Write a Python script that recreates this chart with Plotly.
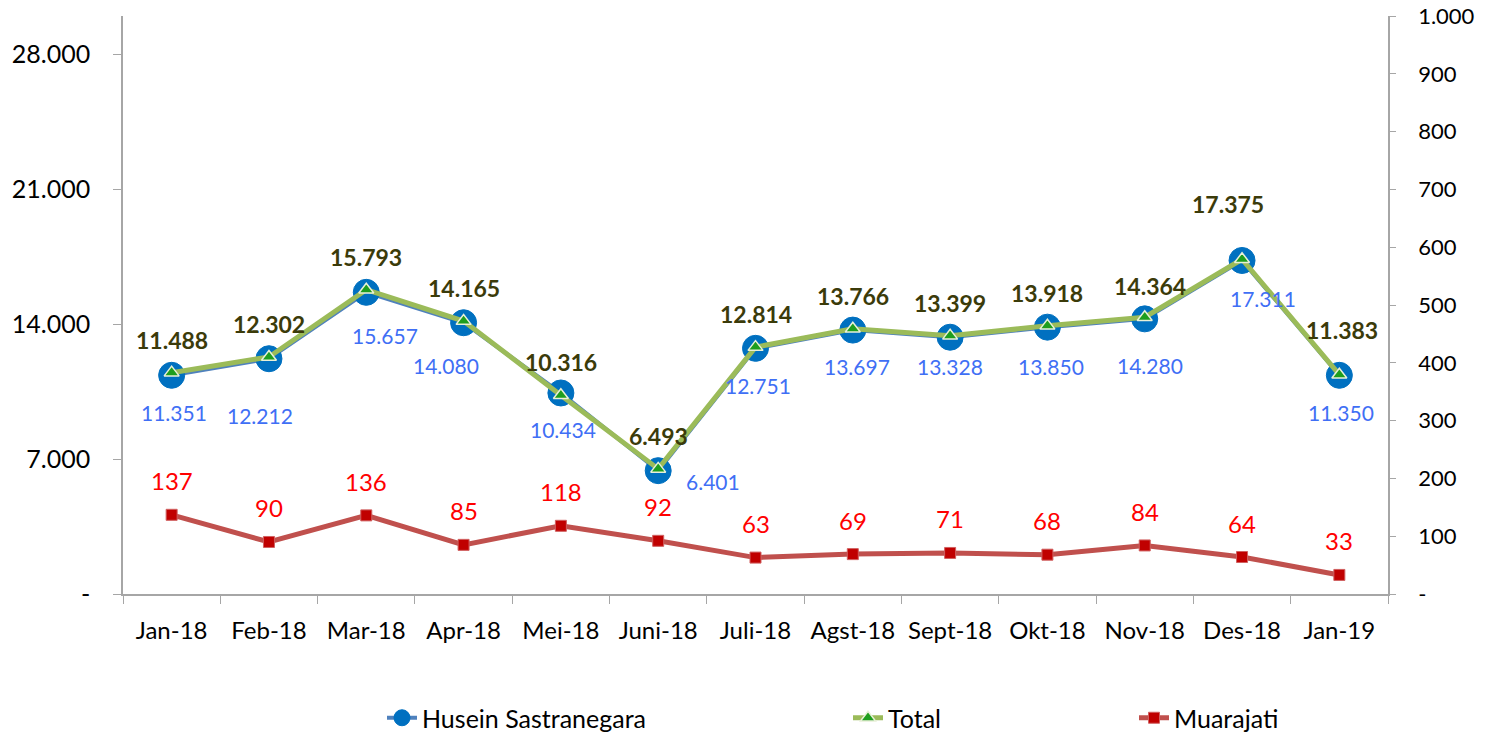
import plotly.graph_objects as go

months = ["Jan-18", "Feb-18", "Mar-18", "Apr-18", "Mei-18", "Juni-18", "Juli-18",
          "Agst-18", "Sept-18", "Okt-18", "Nov-18", "Des-18", "Jan-19"]
husein = [11351, 12212, 15657, 14080, 10434, 6401, 12751, 13697, 13328, 13850, 14280, 17311, 11350]
total = [11488, 12302, 15793, 14165, 10316, 6493, 12814, 13766, 13399, 13918, 14364, 17375, 11383]
muarajati = [137, 90, 136, 85, 118, 92, 63, 69, 71, 68, 84, 64, 33]

left_ticks = [0, 7000, 14000, 21000, 28000]
left_text = ["-", "7.000", "14.000", "21.000", "28.000"]
right_ticks = [0, 100, 200, 300, 400, 500, 600, 700, 800, 900, 1000]
right_text = ["-", "100", "200", "300", "400", "500", "600", "700", "800", "900", "1.000"]


def fmt(v):
    return f"{v:,}".replace(",", ".")


FONT = "Lato"
AX = "#A6A6A6"
W, H = 1485, 734

fig = go.Figure()
fig.add_trace(go.Scatter(
    x=months, y=husein, name="Husein Sastranegara", mode="lines+markers",
    line=dict(color="#4F81BD", width=4),
    marker=dict(symbol="circle", size=26, color="#0070C0", line=dict(color="#0070C0", width=1)),
    legend="legend"))
fig.add_trace(go.Scatter(
    x=months, y=total, name="Total", mode="lines+markers",
    line=dict(color="#9BBB59", width=5),
    marker=dict(symbol="triangle-up", size=13, color="#1E9E1E", line=dict(color="#E8F0D8", width=1.5)),
    legend="legend2"))
fig.add_trace(go.Scatter(
    x=months, y=muarajati, name="Muarajati", mode="lines+markers", yaxis="y2",
    line=dict(color="#C0504D", width=5),
    marker=dict(symbol="square", size=11, color="#C00000", line=dict(color="#D06060", width=1)),
    legend="legend3"))

# label offsets (x, y) in px
tot_shift = {10: (5, 31), 11: (-14, 55), 12: (3, 45)}
hus_shift = {1: (-9, -57), 2: (19, -43), 3: (-18, -43), 5: (55, -11), 7: (4, -36),
             8: (0, -29), 9: (4, -39), 10: (5, -47), 11: (21, -38)}

ann = []
for i, m in enumerate(months):
    dx, dy = tot_shift.get(i, (0, 33))
    ann.append(dict(x=m, y=total[i], text=f"<b>{fmt(total[i])}</b>", showarrow=False,
                    xshift=dx, yshift=dy, font=dict(family=FONT, size=23, color="#3B3B0A")))
    dx, dy = hus_shift.get(i, (2, -37))
    ann.append(dict(x=m, y=husein[i], text=fmt(husein[i]), showarrow=False,
                    xshift=dx, yshift=dy, font=dict(family=FONT, size=21, color="#3F6FF5")))
    ann.append(dict(x=m, y=muarajati[i], yref="y2", text=fmt(muarajati[i]), showarrow=False,
                    yshift=34, font=dict(family=FONT, size=24, color="#FF0000")))

leg_common = dict(xref="container", yref="container", xanchor="left", yanchor="middle",
                  orientation="h", font=dict(family=FONT, size=25, color="#000"),
                  bgcolor="rgba(0,0,0,0)")
ly = 1 - 718 / H

fig.update_layout(
    width=W, height=H,
    margin=dict(l=123, r=W - 1388, t=16, b=H - 594, autoexpand=False),
    paper_bgcolor="white", plot_bgcolor="white",
    font=dict(family=FONT, color="#000000"),
    showlegend=True,
    annotations=ann,
    xaxis=dict(type="category", showline=True, linecolor=AX, linewidth=1.5,
               ticks="outside", ticklen=8, tickcolor=AX, tickson="boundaries",
               showgrid=False, tickfont=dict(family=FONT, size=24, color="#000"),
               ticklabelstandoff=14, range=[-0.5, 12.5]),
    yaxis=dict(range=[0, 30000], tickvals=left_ticks, ticktext=left_text,
               showline=True, linecolor=AX, linewidth=1.5, ticks="outside", ticklen=8,
               tickcolor=AX, showgrid=False, zeroline=False,
               tickfont=dict(family=FONT, size=25, color="#000"), ticklabelstandoff=18),
    yaxis2=dict(range=[0, 1000], tickvals=right_ticks, ticktext=right_text, overlaying="y",
                side="right", showline=True, linecolor=AX, linewidth=1.5, ticks="outside",
                ticklen=6, tickcolor=AX, showgrid=False, zeroline=False,
                ticklabeloverflow="allow",
                tickfont=dict(family=FONT, size=22, color="#000"), ticklabelstandoff=18),
    legend=dict(x=382 / W, y=ly, **leg_common),
    legend2=dict(x=848 / W, y=ly, **leg_common),
    legend3=dict(x=1134 / W, y=ly, **leg_common),
)

fig.write_html("out.html", config={"displayModeBar": False},
               post_script="document.body.style.margin='0';document.body.style.overflow='hidden';")
